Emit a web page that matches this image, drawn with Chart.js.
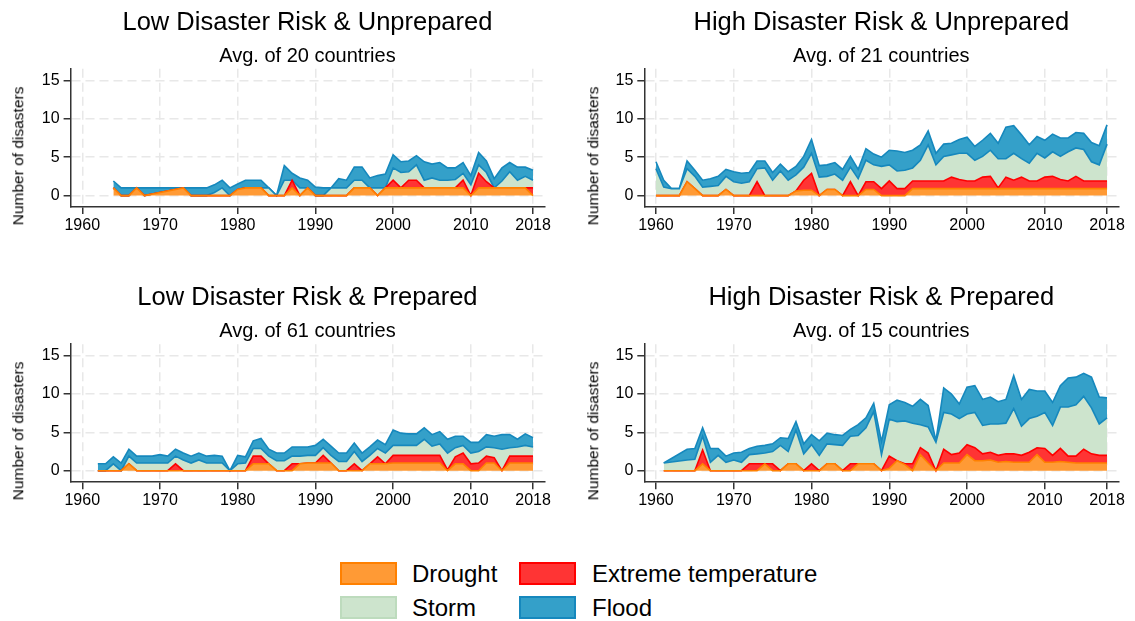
<!DOCTYPE html>
<html>
<head>
<meta charset="utf-8">
<script src="https://cdn.jsdelivr.net/npm/chart.js@4.4.1/dist/chart.umd.min.js"></script>
<style>
  html, body { margin: 0; padding: 0; background: #fff; }
  #page { position: relative; width: 1135px; height: 621px; overflow: hidden;
          font-family: "Liberation Sans", Arial, Helvetica, sans-serif; color: #000; }
  #page canvas { position: absolute; }
  .t { position: absolute; white-space: nowrap; transform: translate(-50%, -50%); line-height: 1; }
  .title { font-size: 25.5px; }
  .sub { font-size: 20px; }
  .ytitle { font-size: 15.5px; transform: translate(-50%, -50%) rotate(-90deg); }
  .lg { position: absolute; font-size: 24px; white-space: nowrap; line-height: 1; transform: translateY(-50%); }
  .sw { position: absolute; box-sizing: border-box; border: 2px solid; }
</style>
</head>
<body>
<div id="page"></div>
<script>
// ---- axis ticks and labels ----
const xTicks = [1960, 1970, 1980, 1990, 2000, 2010, 2018];
const yTicks = [0, 5, 10, 15];
const seriesNames = ['Drought', 'Extreme temperature', 'Storm', 'Flood'];
const panelTitles = ['Low Disaster Risk & Unprepared', 'High Disaster Risk & Unprepared',
                     'Low Disaster Risk & Prepared', 'High Disaster Risk & Prepared'];
const panelSubtitles = ['Avg. of 20 countries', 'Avg. of 21 countries',
                        'Avg. of 61 countries', 'Avg. of 15 countries'];
const yAxisTitle = 'Number of disasters';

// ---- Low Disaster Risk & Unprepared ----
const years1 = [1964,1965,1966,1967,1968,1973,1974,1975,1976,1977,1978,1979,1980,1981,1982,1983,1984,1985,1986,1987,1988,1989,1990,1991,1992,1993,1994,1995,1996,1997,1998,1999,2000,2001,2002,2003,2004,2005,2006,2007,2008,2009,2010,2011,2012,2013,2014,2015,2016,2017,2018];
const drought1 = [1,0,0,1,0, 1,0,0,0,0,0,0,0.8,1,1,1,0,0,0,1,0,1,0,0,0,0,0,1,1,1,0,1,1,1,1,1,1,1,1,1,1,1,0,1,1,1,1,1,1,1,0];
const extreme1 = [0,0,0,0,0, 0,0,0,0,0,0,0,0,0,0,0,0,0,0,1,0,0,0,0,0,0,0,0,0,0,0,0,1,0,1,1,0,0,0,0,0,1,0,1.9,0.8,0,0,0,0,0,1];
const storm1   = [0,0,0,0,0, 0,0,0,0,0.4,1,0,0,0,0,0,1,0,2,0,1,0,0,0,1,1,1,1,1,0,1,0,1.6,2,1.1,2,1,1.3,1,1,1.1,0.9,1.4,1.1,1.2,0,0.9,2.1,1,1.5,1];
const flood1   = [0.9,1,1,0,1, 0,1,1,1,1,1,1,0.7,1,1,1,0,0,1.9,0.9,1.3,1,1.1,1,0,1.2,1,1.7,1.7,1.3,1.6,1.8,1.7,1.4,1.4,1.2,2.4,1.8,2.3,1.6,1.5,1.4,1.2,1.6,1.5,1.2,1.7,1.2,1.7,1.2,1.3];

// ---- High Disaster Risk & Unprepared ----
const years2 = [1960,1961,1962,1963,1964,1965,1966,1967,1968,1969,1970,1971,1972,1973,1974,1975,1976,1977,1978,1979,1980,1981,1982,1983,1984,1985,1986,1987,1988,1989,1990,1991,1992,1993,1994,1995,1996,1997,1998,1999,2000,2001,2002,2003,2004,2005,2006,2007,2008,2009,2010,2011,2012,2013,2014,2015,2016,2017,2018];
const drought2 = [0,0,0,0,1.8,0.9,0,0,0,0.8,0,0,0,0,0,0,0,0,0.6,0.7,0.7,0,0.8,0.8,0,0,0,0.8,0.8,0,0,0,0,0.9,0.9,0.9,0.9,0.9,0.9,0.9,0.9,0.9,0.9,0.9,0.9,0.9,0.9,0.9,0.9,0.9,0.9,0.9,0.9,0.9,0.9,0.9,0.9,0.9,0.9];
const extreme2 = [0,0,0,0,0,0,0,0,0,0,0,0,0,1.8,0,0,0,0,0,1.3,2.2,0,0,0,0,1.8,0,1,1,0.9,1.9,0.9,0.9,1,1,1,1,1,1.5,1.2,1,1,1.5,1.6,0.1,1.5,1.1,1.5,1,1,1.5,1.6,1.2,1,1.6,1,1,1,1];
const storm2   = [3.5,1.1,0.9,0.9,1.7,1.6,1.1,1.2,1.3,1.7,1.8,1.6,1.8,1.7,3.6,2,3.2,2,2.1,1.7,2.6,2.4,1.7,2,2,1.9,2.2,2.8,2.2,2.9,2.1,2.3,2.4,1.7,2.7,4.7,2.1,3.2,2.9,3.4,3.6,2.7,2.7,3.4,3.8,2.4,3.5,2.4,2.3,3.6,2.5,3.2,3,3.8,3.7,4.1,2.5,2.1,4.8];
const flood2   = [0.9,0.9,0,0,1,0.8,0.9,1,1.2,0.9,1.3,1.3,1.2,1,0.9,1,0.9,1.1,1.1,1.4,1.8,1.5,1.5,1.5,1.4,1.4,1.2,1.5,1.4,1.2,1.9,2.6,2.3,2.3,2,1.8,1.5,1.6,1.5,1.8,2.1,1.8,2.1,2.2,2,4.1,3.6,3.1,2.4,2.2,2.3,2.3,2.4,1.8,2,2.1,2.5,2.5,2.5];

// ---- Low Disaster Risk & Prepared ----
const years3 = [1962,1963,1964,1965,1966,1967,1968,1969,1970,1971,1972,1973,1974,1975,1976,1977,1978,1979,1980,1981,1982,1983,1984,1985,1986,1987,1988,1989,1990,1991,1992,1993,1994,1995,1996,1997,1998,1999,2000,2001,2002,2003,2004,2005,2006,2007,2008,2009,2010,2011,2012,2013,2014,2015,2016,2017,2018];
const drought3 = [0,0,0,0,0.9,0,0,0,0,0,0,0,0,0,0,0,0,0,0,0,0.9,0.9,0.9,0,0,0,0.9,1,1,1,1,0,0,0,0,0.9,0.9,0.9,1,1,1,1,1,1,1,0,0.9,0.9,0,0,1,1,0,1,1,1,1];
const extreme3 = [0,0,0,0,0,0,0,0,0,0,0.9,0,0,0,0,0,0,0,0,0,1,1,0,0,0,0.9,0,0,0,1,0,0,0,0.9,0,0,0.9,0,1,1,1,1,1,1,1,0.1,0.9,1.4,0.9,1,0.9,0.7,0,0.9,0.9,0.9,0.9];
const storm3   = [0,0,0.9,0,1,1,1,1,1,1,1,1.4,1,1.4,1,1,1,0,0.9,1,1,1,1,1.3,1.3,1,1,1,1,1,1,1.2,1.2,1.6,1.2,1.1,1.1,1.4,1.3,1.3,1.3,1.3,2.1,1.2,1.5,2.2,1.2,1,1.4,1.5,1.2,1.3,2.8,1.1,1.2,1.4,1.2];
const flood3   = [0.9,0.9,0.9,1,0.9,0.9,0.9,0.9,1.1,0.9,0.9,0.9,0.9,0.9,0.9,1,0.9,0,1.1,0.8,1,1.3,0.9,1,1,1.2,1.2,1.1,1.3,1.1,1.2,1.1,1.1,1.1,1.1,1.1,1.1,1.1,2,1.6,1.5,1.5,1.5,1.5,1.6,1.8,1.5,1.2,1.4,1.2,1.6,1.5,1.9,1.7,1,1.5,1.2];

// ---- High Disaster Risk & Prepared ----
const years4 = [1961,1964,1965,1966,1967,1968,1969,1970,1971,1972,1973,1974,1975,1976,1977,1978,1979,1980,1981,1982,1983,1984,1985,1986,1987,1988,1989,1990,1991,1992,1993,1994,1995,1996,1997,1998,1999,2000,2001,2002,2003,2004,2005,2006,2007,2008,2009,2010,2011,2012,2013,2014,2015,2016,2017,2018];
const drought4 = [0,0,0,0.9,0,0,0,0,0,0,0,0.9,0,0,0.9,0.9,0,0,0,0.9,0.9,0,0,0.9,0.9,0.9,0,0.3,1.3,0.8,0,2.1,1,0,1,1,1,2.1,1.3,1.3,1.4,1.1,1.2,1.1,1.1,1.1,2.1,1.1,1.1,1.2,1.1,1,1,1,1,1];
const extreme4 = [0,0,0,1.8,0,0,0,0,0,0.9,0.9,0,0.9,0,0,0,0,0.9,0,0,0,0,0.9,0,0,0,0,1.6,0,0.1,0.9,0.9,1.3,0,1.8,1.1,1.3,1.3,1.7,0.9,1,0.9,1,1.1,0.9,1.3,0.9,1.8,0.9,1.7,0.8,0.9,1.8,1.2,1,1];
const storm4   = [1,1.4,1.5,1.8,1.1,2,1.1,1.4,1.1,1.2,1.3,1.4,1.6,3.3,1.6,4.4,2.2,2.5,2,2.6,2.5,3.3,3.6,3.7,4.7,6.8,2.1,4.8,5.1,5.6,5.3,3,3.4,3.7,4.8,5.3,4.5,4,4.6,3.7,3.7,4.1,4,5.9,3.8,4.4,4.1,4.7,3.9,5.4,6.4,6.7,6.9,6,4.1,4.9];
const flood4   = [0,1.4,1.4,1.1,1.8,0.9,0.8,0.9,1.3,0.8,1,1,1,1,1.7,1.1,1.3,1.3,1.9,1.4,1.3,1.3,0.9,1.4,1.3,1.1,1.7,1.9,2.8,2.4,2.2,3.3,2.8,0.2,3.2,2.6,1.9,3.5,3.5,3.4,3.5,2.9,3.1,4.3,3.5,3.8,3.3,2.8,3,2.8,3.8,3.6,3,4,3.5,2.6];

// ---- styling ----
const fillColors = ['#ff9a35', '#ff3434', '#cde4cd', '#34a0c9'];
const lineColors = ['#ff8000', '#ff0000', '#bddbbd', '#1688bd'];
const FONT = '"Liberation Sans", Arial, Helvetica, sans-serif';

// Page placement of each panel: canvas box and the plot area inside it.
const panels = [
  { years: years1, vals: [drought1, extreme1, storm1, flood1], box: {x: 0,   y: 0,   w: 567, h: 250}, area: {l: 70.6,  t: 68.8,  r: 544.3,  b: 207.1} },
  { years: years2, vals: [drought2, extreme2, storm2, flood2], box: {x: 570, y: 0,   w: 565, h: 250}, area: {l: 644.3, t: 68.8,  r: 1118.3, b: 207.1} },
  { years: years3, vals: [drought3, extreme3, storm3, flood3], box: {x: 0,   y: 280, w: 567, h: 250}, area: {l: 70.6,  t: 344.2, r: 544.3,  b: 482.2} },
  { years: years4, vals: [drought4, extreme4, storm4, flood4], box: {x: 570, y: 280, w: 565, h: 250}, area: {l: 644.3, t: 344.2, r: 1118.3, b: 482.2} }
];

const page = document.getElementById('page');

function addText(cls, text, cx, cy) {
  const d = document.createElement('div');
  d.className = 't ' + cls;
  d.textContent = text;
  d.style.left = cx + 'px';
  d.style.top = cy + 'px';
  page.appendChild(d);
}

panels.forEach((p, k) => {
  const cv = document.createElement('canvas');
  cv.width = p.box.w; cv.height = p.box.h;
  cv.style.left = p.box.x + 'px'; cv.style.top = p.box.y + 'px';
  cv.style.width = p.box.w + 'px'; cv.style.height = p.box.h + 'px';
  page.appendChild(cv);

  const yW = p.area.l - p.box.x;
  const xH = p.box.y + p.box.h - p.area.b;

  const datasets = p.vals.map((v, i) => ({
    label: seriesNames[i],
    data: p.years.map((yr, j) => ({ x: yr, y: v[j] })),
    backgroundColor: fillColors[i],
    // the storm edge is the lower rim of the flood band, so it takes the flood outline
    borderColor: i === 2 ? lineColors[3] : lineColors[i],
    borderWidth: 1.6,
    fill: i === 0 ? 'origin' : '-1',
    pointRadius: 0,
    tension: 0
  }));

  new Chart(cv, {
    type: 'line',
    data: { datasets },
    options: {
      responsive: false,
      animation: false,
      devicePixelRatio: 1,
      layout: { padding: { left: 0, top: p.area.t - p.box.y, right: p.box.x + p.box.w - p.area.r, bottom: 0 } },
      plugins: { legend: { display: false }, tooltip: { enabled: false }, title: { display: false } },
      scales: {
        x: {
          type: 'linear', min: 1958.5, max: 2019.45,
          afterBuildTicks: s => { s.ticks = xTicks.map(v => ({ value: v })); },
          afterFit: s => { s.height = xH; },
          ticks: { font: { family: FONT, size: 16 }, color: '#000', padding: 2, maxRotation: 0, autoSkip: false,
                   callback: v => String(v) },
          grid: { color: '#e8e8e8', lineWidth: 1.5, tickLength: 7, tickColor: '#333', tickWidth: 1.5, tickBorderDash: [] },
          border: { display: true, color: '#333', width: 1.5, dash: [9, 5] }
        },
        y: {
          type: 'linear', stacked: true, min: -1.5, max: 16.5,
          afterBuildTicks: s => { s.ticks = yTicks.map(v => ({ value: v })); },
          afterFit: s => { s.width = yW; },
          ticks: { font: { family: FONT, size: 16 }, color: '#000', padding: 4, callback: v => String(v) },
          grid: { color: '#e8e8e8', lineWidth: 1.5, tickLength: 7, tickColor: '#333', tickWidth: 1.5, tickBorderDash: [] },
          border: { display: true, color: '#333', width: 1.5, dash: [9, 5] }
        }
      }
    }
  });

  const cx = (p.area.l + p.area.r) / 2;
  const top = p.area.t - 68.8 + 0;
  addText('title', panelTitles[k], cx, p.area.t - 46.8);
  addText('sub', panelSubtitles[k], cx, p.area.t - 13.8);
  addText('ytitle', yAxisTitle, p.box.x + (k % 2 ? 23 : 18), (p.area.t + p.area.b) / 2 + 18);
});

// shared legend, two rows
const legendSlots = [
  { x: 340, y: 562, tx: 412 },
  { x: 519, y: 562, tx: 592 },
  { x: 340, y: 596, tx: 412 },
  { x: 519, y: 596, tx: 592 }
];
seriesNames.forEach((name, i) => {
  const s = legendSlots[i];
  const sw = document.createElement('div');
  sw.className = 'sw';
  sw.style.left = s.x + 'px'; sw.style.top = s.y + 'px';
  sw.style.width = '57px'; sw.style.height = '23px';
  sw.style.background = fillColors[i];
  sw.style.borderColor = lineColors[i];
  page.appendChild(sw);
  const lb = document.createElement('div');
  lb.className = 'lg';
  lb.textContent = name;
  lb.style.left = s.tx + 'px';
  lb.style.top = (s.y + 11.5) + 'px';
  page.appendChild(lb);
});
</script>
</body>
</html>
